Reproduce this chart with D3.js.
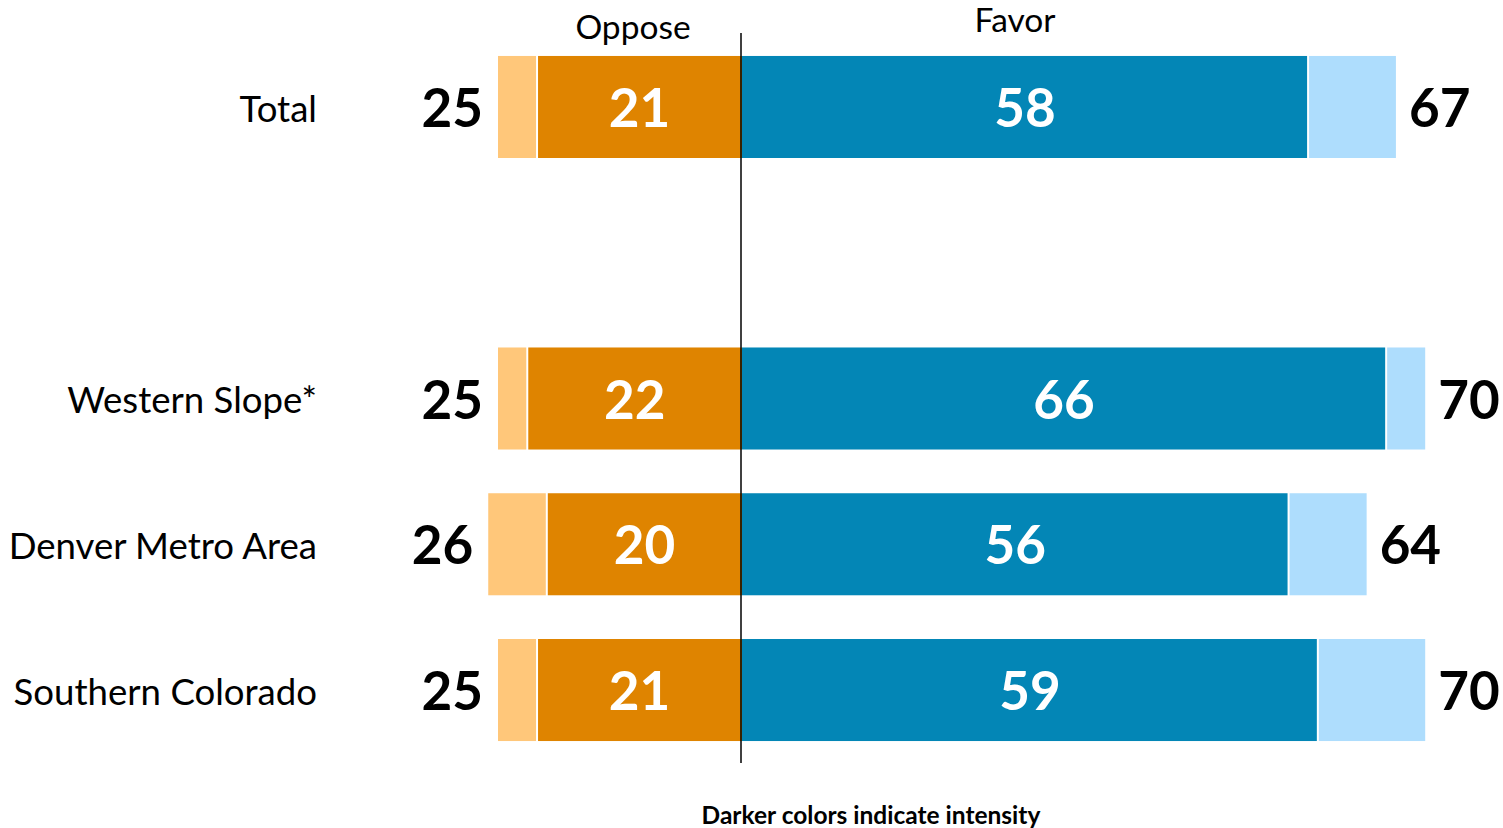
<!DOCTYPE html>
<html>
<head>
<meta charset="utf-8">
<script src="https://cdn.jsdelivr.net/npm/d3@7"></script>
<style>
  html, body { margin: 0; padding: 0; background: #ffffff; }
  svg { display: block; }
</style>
</head>
<body>
<svg id="chart" width="1503" height="828"></svg>
<script>
// Row labels ("" is a blank spacer row under Total)
const rows = ["Total", "", "Western Slope*", "Denver Metro Area", "Southern Colorado"];
const groups = ["Total", "Western Slope*", "Denver Metro Area", "Southern Colorado"];
// Percentages
const strongOppose = [21, 22, 20, 21];
const totalOppose  = [25, 25, 26, 25];
const strongFavor  = [58, 66, 56, 59];
const totalFavor   = [67, 70, 64, 70];

const colors = {
  opposeLight: "#FFC77A",
  opposeDark:  "#DF8400",
  favorDark:   "#0386B6",
  favorLight:  "#AEDDFD"
};

const font = "Lato, 'Open Sans', sans-serif";
const svg = d3.select("#chart");

const x = d3.scaleLinear().domain([-26, 78]).range([742 - 26 * 9.76, 742 + 78 * 9.76]);
const y = d3.scaleBand().domain(rows).range([34.1, 762.9]).paddingInner(0.3).paddingOuter(0.15);

const data = groups.map((g, i) => ({
  group: g,
  so: strongOppose[i], to: totalOppose[i],
  sf: strongFavor[i], tf: totalFavor[i]
}));

const bars = svg.append("g");
const gap = 1; // white separator between light and dark segments

data.forEach(d => {
  const top = y(d.group), h = y.bandwidth();
  // light oppose
  bars.append("rect")
    .attr("x", x(-d.to)).attr("y", top)
    .attr("width", x(-d.so) - x(-d.to) - gap).attr("height", h)
    .attr("fill", colors.opposeLight);
  // dark oppose
  bars.append("rect")
    .attr("x", x(-d.so) + gap).attr("y", top)
    .attr("width", x(0) - x(-d.so) - gap).attr("height", h)
    .attr("fill", colors.opposeDark);
  // dark favor
  bars.append("rect")
    .attr("x", x(0)).attr("y", top)
    .attr("width", x(d.sf) - x(0) - gap).attr("height", h)
    .attr("fill", colors.favorDark);
  // light favor
  bars.append("rect")
    .attr("x", x(d.sf) + gap).attr("y", top)
    .attr("width", x(d.tf) - x(d.sf) - gap).attr("height", h)
    .attr("fill", colors.favorLight);
});

const labels = svg.append("g").attr("font-family", font);

data.forEach(d => {
  const cy = y(d.group) + y.bandwidth() / 2;
  // category label
  labels.append("text")
    .attr("x", 317).attr("y", cy + 2).attr("dy", "0.35em")
    .attr("text-anchor", "end").attr("font-size", 36.6).attr("fill", "#000")
    .text(d.group);
  // inner values
  labels.append("text")
    .attr("x", (x(-d.so) + x(0)) / 2).attr("y", cy + 1).attr("dy", "0.36em")
    .attr("text-anchor", "middle").attr("font-size", 53).attr("font-weight", "bold")
    .attr("fill", "#fff").text(d.so);
  labels.append("text")
    .attr("x", (x(0) + x(d.sf)) / 2).attr("y", cy + 1).attr("dy", "0.36em")
    .attr("text-anchor", "middle").attr("font-size", 53).attr("font-weight", "bold")
    .attr("fill", "#fff").text(d.sf);
  // outer totals
  labels.append("text")
    .attr("x", x(-d.to) - 15).attr("y", cy + 1).attr("dy", "0.36em")
    .attr("text-anchor", "end").attr("font-size", 53).attr("font-weight", "bold")
    .attr("fill", "#000").text(d.to);
  labels.append("text")
    .attr("x", x(d.tf) + 13).attr("y", cy + 1).attr("dy", "0.36em")
    .attr("text-anchor", "start").attr("font-size", 53).attr("font-weight", "bold")
    .attr("fill", "#000").text(d.tf);
});

// zero line
svg.append("line")
  .attr("x1", x(0) - 1).attr("x2", x(0) - 1)
  .attr("y1", 33).attr("y2", 763)
  .attr("stroke", "#000").attr("stroke-width", 1.5);

// side headers
labels.append("text").attr("x", 633).attr("y", 39)
  .attr("text-anchor", "middle").attr("font-size", 33.5).text("Oppose");
labels.append("text").attr("x", 1015).attr("y", 32)
  .attr("text-anchor", "middle").attr("font-size", 33.5).text("Favor");

// footnote
labels.append("text").attr("x", 871).attr("y", 824)
  .attr("text-anchor", "middle").attr("font-size", 24.5).attr("font-weight", "bold")
  .text("Darker colors indicate intensity");
</script>
</body>
</html>
